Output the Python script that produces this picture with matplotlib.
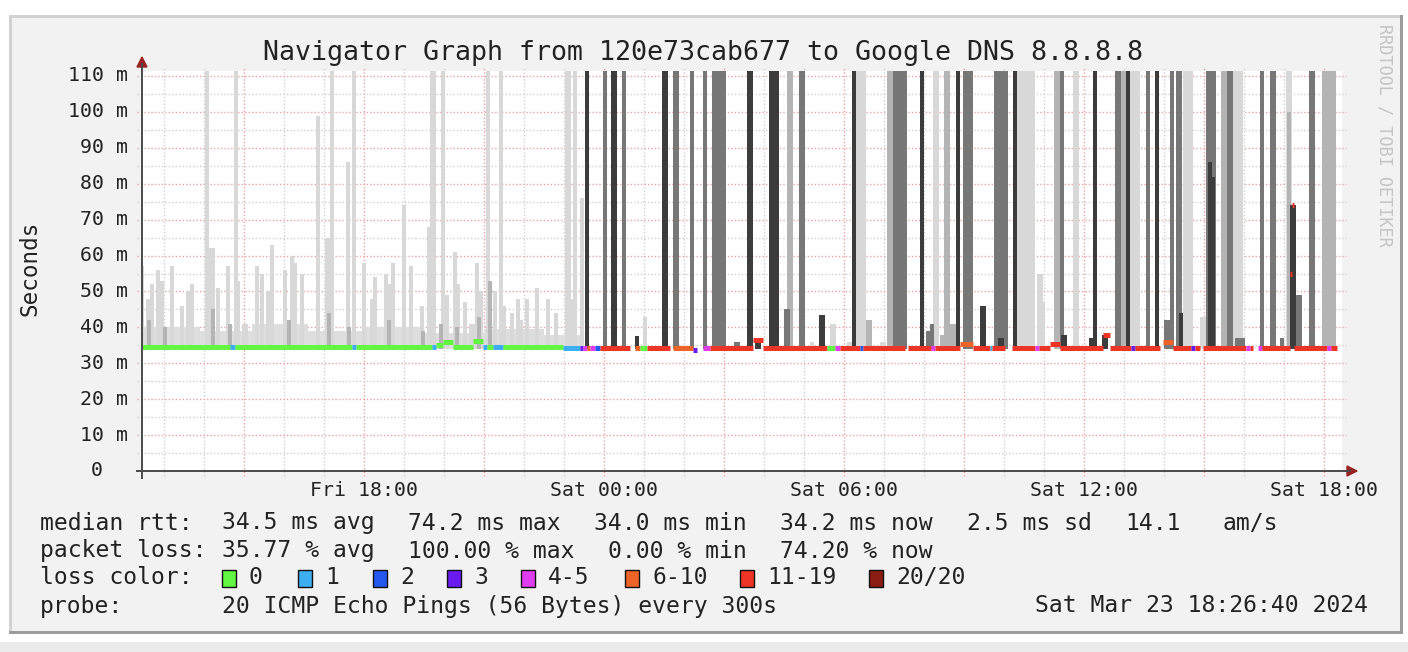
import matplotlib
matplotlib.use("Agg")
import matplotlib.pyplot as plt
from matplotlib.patches import Rectangle, Polygon

W, H = 1408, 652

# ---------------- data ----------------
title = "Navigator Graph from 120e73cab677 to Google DNS 8.8.8.8"
t_start = 12.444   # Fri 12:26:40 (hours since Fri 00:00)
t_end = 42.444     # Sat 18:26:40
step_h = 5 / 60    # one sample every 300 s

x_ticks = [18, 24, 30, 36, 42]
x_labels = ["Fri 18:00", "Sat 00:00", "Sat 06:00", "Sat 12:00", "Sat 18:00"]
y_ticks = [0, 10, 20, 30, 40, 50, 60, 70, 80, 90, 100, 110]
y_labels = ["0", "10 m", "20 m", "30 m", "40 m", "50 m", "60 m",
            "70 m", "80 m", "90 m", "100 m", "110 m"]

# smoke: centre time (h), top (ms), density class (1 dark .. 4 light), width in samples
smoke_t = [12.44, 12.59, 12.69, 12.84, 12.94, 13.19, 13.44, 13.59, 13.69, 14.07,
           14.19, 14.34, 14.59, 14.79, 14.86, 15.02, 15.32, 15.44, 15.59, 15.69,
           16.02, 16.19, 16.27, 16.44, 16.84, 17.09, 17.19, 17.59, 17.74, 17.99,
           18.19, 18.27, 18.54, 18.64, 18.72, 18.99, 19.17, 19.44, 19.62, 19.72,
           19.97, 20.04, 20.27, 20.34, 20.52, 20.69, 20.82, 20.92, 21.09, 21.14,
           21.27, 21.42, 21.49, 21.69, 21.84, 21.92, 22.07, 22.32, 22.59, 22.79,
           23.09, 23.17, 23.27, 23.44,
           12.62, 13.02, 14.22, 14.64, 16.12, 17.12, 17.62, 18.62, 19.47, 19.92,
           20.32, 20.87,
           23.57, 24.02, 24.24, 24.49, 24.82, 25.02, 25.52, 25.79, 26.19, 26.52,
           26.87, 27.32, 27.64, 27.84, 28.24, 28.64, 28.57, 28.94, 29.19, 29.44,
           29.72, 30.14, 30.24, 30.42, 30.62, 30.97, 31.14, 31.39, 31.94, 32.09,
           32.19, 32.29, 32.44, 32.57, 32.72, 32.84, 33.09, 33.47, 33.92, 33.92,
           34.27, 34.52, 34.89, 34.97, 35.32, 35.44, 35.49, 35.79, 36.17, 36.27,
           36.52, 36.84, 36.97, 37.09, 37.27, 37.59, 37.82, 38.07, 38.19, 38.37,
           38.42, 38.59, 38.97, 39.17, 39.14, 39.22, 39.49, 39.64, 39.84, 39.89,
           40.44, 40.72, 40.94, 41.12, 41.12, 41.22, 41.37, 41.69, 42.12]
smoke_top = [57, 48, 52, 56, 53, 57, 46, 50, 52, 112,
             62, 51, 57, 112, 53, 41, 57, 55, 50, 63,
             56, 60, 58, 55, 99, 65, 112, 86, 112, 58,
             48, 54, 55, 52, 58, 74, 57, 46, 68, 112,
             112, 49, 61, 52, 47, 41, 58, 50, 112, 53,
             50, 112, 46, 44, 48, 42, 48, 51, 48, 44,
             112, 48, 112, 76,
             42, 40, 45, 41, 42, 44, 40, 42, 39, 41,
             40, 43,
             112, 112, 112, 112, 37.5, 43, 112, 112, 112, 112,
             112, 36, 112, 37, 112, 112, 45, 112, 36, 43.5,
             41, 36, 112, 112, 42, 36, 112, 112, 112, 39,
             41, 112, 38, 112, 41, 112, 112, 46, 112, 37,
             112, 112, 55, 47, 112, 112, 38, 112, 37, 112,
             38, 112, 112, 112, 112, 112, 112, 42, 112, 112,
             44, 112, 43, 112, 86, 82, 112, 112, 112, 37,
             112, 112, 37, 112, 100, 74, 49, 112, 112]
smoke_cls = [4, 4, 4, 4, 4, 4, 4, 4, 4, 4,
             4, 4, 4, 4, 4, 4, 4, 4, 4, 4,
             4, 4, 4, 4, 4, 4, 4, 4, 4, 4,
             4, 4, 4, 4, 4, 4, 4, 4, 4, 4,
             4, 4, 4, 4, 4, 4, 4, 4, 4, 3,
             4, 4, 4, 4, 4, 4, 4, 4, 4, 4,
             4, 4, 4, 4,
             3, 3, 3, 3, 3, 3, 3, 3, 3, 3,
             3, 3,
             1, 2, 1, 2, 1, 4, 1, 2, 2, 2,
             2, 2, 1, 1, 1, 3, 2, 2, 4, 1,
             4, 4, 1, 4, 3, 4, 3, 2, 1, 2,
             2, 4, 3, 3, 3, 1, 2, 1, 2, 1,
             1, 4, 4, 4, 3, 2, 1, 4, 1, 1,
             1, 2, 3, 1, 4, 2, 1, 2, 2, 2,
             1, 4, 4, 2, 1, 1, 3, 2, 4, 2,
             2, 2, 2, 4, 3, 1, 2, 2, 3]
smoke_n = [1, 1, 1, 1, 1, 1, 1, 1, 1, 1,
           2, 1, 1, 1, 1, 2, 1, 1, 1, 1,
           1, 1, 1, 1, 1, 2, 1, 1, 1, 1,
           1, 1, 1, 1, 1, 1, 1, 1, 1, 2,
           1, 2, 1, 1, 1, 2, 1, 1, 1, 1,
           1, 1, 1, 1, 1, 1, 1, 1, 1, 1,
           2, 2, 1, 1,
           1, 1, 1, 1, 1, 1, 1, 1, 1, 1,
           1, 1,
           1, 1, 2, 1, 1, 1, 2, 2, 1, 1,
           4, 2, 2, 2, 3, 2, 2, 2, 1, 2,
           2, 2, 1, 3, 2, 2, 2, 4, 1, 1,
           1, 2, 1, 2, 2, 1, 3, 2, 4, 2,
           1, 6, 2, 1, 2, 1, 2, 2, 1, 1,
           2, 2, 2, 1, 3, 1, 1, 2, 1, 2,
           1, 3, 2, 3, 1, 1, 2, 2, 3, 3,
           1, 2, 1, 2, 1, 2, 2, 2, 4]

# light smoke floor under the loss-free first half
floor_start = [12.44, 13.90, 15.20, 16.60, 18.00, 19.50, 21.00, 22.50]
floor_end = [13.90, 15.20, 16.60, 18.00, 19.50, 21.00, 22.50, 23.50]
floor_top = [40, 39, 41, 39, 40, 38.5, 39.5, 38]

# median rtt runs: start (h), end (h), median (ms), loss class index
med_start = [12.44, 14.64, 14.77, 17.69, 17.79, 19.69, 19.79, 19.97, 20.22, 20.72,
             20.97, 21.07, 21.22, 21.47, 22.97, 23.39, 23.47, 23.57, 23.64, 23.77,
             23.89, 24.77, 24.89, 25.07, 25.72, 26.22, 26.47, 26.64, 27.72, 27.97,
             29.57, 29.77, 29.89, 30.39, 30.47, 31.59, 32.17, 32.27, 32.89, 33.22,
             33.64, 33.69, 34.19, 34.77, 34.87, 35.14, 35.39, 36.47, 36.64, 37.17,
             37.27, 37.97, 38.22, 38.67, 38.77, 38.97, 40.04, 40.14, 40.34, 40.44,
             41.14, 41.19, 41.24, 42.07, 42.17]
med_end = [14.64, 14.77, 17.69, 17.79, 19.69, 19.79, 19.97, 20.22, 20.72, 20.97,
           21.07, 21.22, 21.47, 22.97, 23.39, 23.47, 23.57, 23.64, 23.77, 23.89,
           24.64, 24.89, 25.07, 25.64, 26.22, 26.32, 26.64, 27.72, 27.97, 29.57,
           29.77, 29.89, 30.39, 30.47, 31.52, 32.17, 32.27, 32.89, 33.22, 33.64,
           33.69, 34.02, 34.77, 34.87, 35.14, 35.39, 36.47, 36.64, 37.17, 37.27,
           37.89, 38.22, 38.67, 38.77, 38.89, 40.04, 40.14, 40.22, 40.44, 41.14,
           41.19, 41.24, 42.07, 42.17, 42.32]
med_ms = [34.5, 34.5, 34.5, 34.5, 34.5, 34.5, 35.0, 35.8, 34.5, 36.3,
          34.5, 34.5, 34.5, 34.5, 34.3, 34.3, 34.3, 34.3, 34.3, 34.3,
          34.3, 34.3, 34.3, 34.3, 34.3, 33.6, 34.3, 34.3, 36.5, 34.3,
          34.3, 34.3, 34.3, 34.3, 34.3, 34.3, 34.3, 34.3, 35.3, 34.3,
          34.3, 34.3, 34.3, 34.3, 34.3, 35.3, 34.3, 38.0, 34.3, 34.3,
          34.3, 35.8, 34.3, 34.3, 34.3, 34.3, 34.3, 34.3, 34.3, 34.3,
          55.0, 74.0, 34.3, 34.3, 34.3]
med_loss = [0, 1, 0, 1, 0, 1, 0, 0, 0, 0,
            1, 0, 1, 0, 1, 3, 4, 5, 4, 2,
            6, 5, 0, 6, 5, 3, 4, 6, 6, 6,
            0, 4, 6, 2, 6, 6, 4, 6, 5, 6,
            1, 6, 6, 4, 6, 6, 6, 6, 6, 3,
            6, 5, 6, 3, 6, 6, 4, 6, 4, 6,
            6, 6, 6, 4, 6]

loss_labels = ["0", "1", "2", "3", "4-5", "6-10", "11-19", "20/20"]

stats_rtt = ["median rtt:", "34.5 ms avg", "74.2 ms max", "34.0 ms min",
             "34.2 ms now", "2.5 ms sd", "14.1", "am/s"]
stats_loss = ["packet loss:", "35.77 % avg", "100.00 % max", "0.00 % min",
              "74.20 % now"]
probe_text = "20 ICMP Echo Pings (56 Bytes) every 300s"
stamp_text = "Sat Mar 23 18:26:40 2024"

# ---------------- style ----------------
loss_colors = ["#62f542", "#3eaef2", "#2457ee", "#6a1cf0", "#e03cf0",
               "#ee6428", "#ee3424", "#8a1c12"]
smoke_colors = {1: "#3c3c3c", 2: "#777777", 3: "#b4b4b4", 4: "#d8d8d8"}
mono = "DejaVu Sans Mono"
txt = "#222222"


def fx(x):
    return x / W


def fy(y):
    return 1 - y / H


fig = plt.figure(figsize=(W / 100, H / 100), dpi=100)
fig.patch.set_facecolor("white")

# rrdtool frame with 3D shading (behind the axes)
fig.patches.append(Rectangle((fx(9), fy(634)), fx(1394), 619 / H, transform=fig.transFigure,
                             facecolor="#9c9c9c", edgecolor="none", zorder=-10))
fig.patches.append(Rectangle((fx(9), fy(631)), fx(1391), 616 / H, transform=fig.transFigure,
                             facecolor="#d2d2d2", edgecolor="none", zorder=-9))
fig.patches.append(Rectangle((fx(12), fy(631)), fx(1388), 613 / H, transform=fig.transFigure,
                             facecolor="#f2f2f2", edgecolor="none", zorder=-8))
fig.patches.append(Rectangle((0, 0), 1, 10 / H, transform=fig.transFigure,
                             facecolor="#ebebeb", edgecolor="none", zorder=-8))

ax = fig.add_axes([fx(142), fy(471), 1200 / W, 400 / H])
ax.set_facecolor("white")
ax.set_xlim(t_start, t_end)
ax.set_ylim(0, 111.4)
for s in ax.spines.values():
    s.set_visible(False)
ax.set_xticks([])
ax.set_yticks([])

# grid
for h in range(13, 43):
    col = "#eea4a4" if h % 3 == 0 else "#d0d0d0"
    ax.plot([h, h], [-1.4, 112.2], color=col, lw=1.0, ls=(0, (1, 1.5)),
            zorder=0.5, clip_on=False)
for v in range(5, 111, 5):
    col = "#eea4a4" if v % 10 == 0 else "#d0d0d0"
    ax.plot([t_start - 0.13, t_end + 0.1], [v, v], color=col, lw=1.0,
            ls=(0, (1, 1.5)), zorder=0.5, clip_on=False)

# smoke floor and bars
ax.bar(floor_start, [t - 34.0 for t in floor_top], bottom=34.0,
       width=[e - s for s, e in zip(floor_start, floor_end)], align="edge",
       color="#dedede", linewidth=0, zorder=1)
for c in [4, 3, 2, 1]:
    idx = [i for i in range(len(smoke_t)) if smoke_cls[i] == c]
    ax.bar([smoke_t[i] for i in idx], [smoke_top[i] - 34.0 for i in idx], bottom=34.0,
           width=[smoke_n[i] * step_h for i in idx], color=smoke_colors[c],
           linewidth=0, zorder=2 + (4 - c))

# median line coloured by loss
ax.hlines(med_ms, med_start, med_end, colors=[loss_colors[k] for k in med_loss],
          linewidth=3.6, zorder=8, capstyle="butt")

# axes with arrows
axis_col = "#4a4a4a"
arrow_col = "#9b2222"
fig.add_artist(plt.Line2D([fx(142), fx(142)], [fy(478), fy(64)], color=axis_col, lw=1.4))
fig.add_artist(plt.Line2D([fx(137), fx(1350)], [fy(471), fy(471)], color=axis_col, lw=1.4))
fig.add_artist(Polygon([[fx(137), fy(67)], [fx(147), fy(67)], [fx(142), fy(57)]],
                       closed=True, transform=fig.transFigure, color=arrow_col))
fig.add_artist(Polygon([[fx(1347), fy(466)], [fx(1347), fy(476)], [fx(1357), fy(471)]],
                       closed=True, transform=fig.transFigure, color=arrow_col))

# tick labels
for t, lab in zip(x_ticks, x_labels):
    xp = 142 + (t - t_start) * 40
    fig.text(fx(xp), fy(491), lab, ha="center", va="center", family=mono,
             fontsize=14.3, color=txt)
for v, lab in zip(y_ticks, y_labels):
    yp = 471 - v * 3.591
    fig.text(fx(128 if v else 103), fy(yp), lab, ha="right", va="center", family=mono,
             fontsize=14.3, color=txt)

fig.text(fx(30), fy(268), "Seconds", rotation=90, ha="center", va="center",
         family=mono, fontsize=16.3, color=txt)
fig.text(fx(703), fy(53), title, ha="center", va="center", family=mono,
         fontsize=19.2, color=txt)
fig.text(fx(1384), fy(135), "RRDTOOL / TOBI OETIKER", rotation=-90, ha="center",
         va="center", family=mono, fontsize=12.2, color="#c4c4c4")

# legend block
rtt_x = [40, 222, 408, 594, 780, 967, 1125, 1222]
loss_x = [40, 222, 408, 608, 780]
for x, s in zip(rtt_x, stats_rtt):
    fig.text(fx(x), fy(523), s, ha="left", va="center", family=mono, fontsize=16.6, color=txt)
for x, s in zip(loss_x, stats_loss):
    fig.text(fx(x), fy(551), s, ha="left", va="center", family=mono, fontsize=16.6, color=txt)

fig.text(fx(40), fy(578), "loss color:", ha="left", va="center", family=mono,
         fontsize=16.6, color=txt)
box_x = [222, 298, 373, 447, 521, 625, 740, 869]
for bx, col, lab in zip(box_x, loss_colors, loss_labels):
    fig.patches.append(Rectangle((fx(bx), fy(587)), 14 / W, 17 / H, transform=fig.transFigure,
                                 facecolor=col, edgecolor="#111111", linewidth=1.0))
    fig.text(fx(bx + 27), fy(578), lab, ha="left", va="center", family=mono,
             fontsize=16.6, color=txt)

fig.text(fx(40), fy(606), "probe:", ha="left", va="center", family=mono,
         fontsize=16.6, color=txt)
fig.text(fx(222), fy(606), probe_text, ha="left", va="center", family=mono,
         fontsize=16.6, color=txt)
fig.text(fx(1368), fy(606), stamp_text, ha="right", va="center", family=mono,
         fontsize=16.6, color=txt)

fig.savefig("out.png", dpi=100)
